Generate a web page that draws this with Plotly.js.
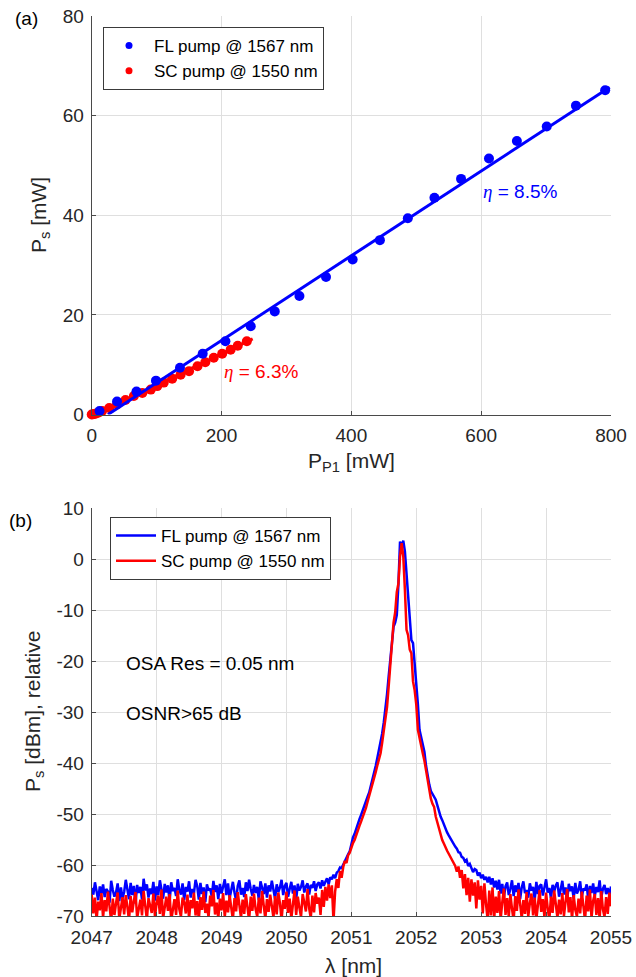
<!DOCTYPE html>
<html>
<head>
<meta charset="utf-8">
<script src="https://cdn.plot.ly/plotly-3.0.1.min.js"></script>
<style>
html,body{margin:0;padding:0;background:#fff;}
#chart{width:636px;height:977px;}
</style>
</head>
<body>
<div id="chart"></div>
<script>
// ---------- Panel (a): signal power vs pump power ----------
const flPumpPower = [12, 39, 69, 99, 136, 171, 206, 245, 282, 320, 361, 402, 444, 487, 528, 569, 612, 655, 701, 746, 791];
const flSignal    = [0.7, 2.6, 4.6, 6.8, 9.4, 12.2, 14.7, 17.7, 20.7, 23.8, 27.6, 31.1, 35.0, 39.4, 43.5, 47.3, 51.4, 54.9, 57.8, 62.0, 65.1];
const scPumpPower = [0, 2, 4, 7, 11, 16, 27, 39, 52, 65, 78, 91, 101, 111, 124, 137, 150, 163, 175, 188, 201, 214, 225, 239];
const scSignal    = [0, 0.05, 0.1, 0.2, 0.4, 0.7, 1.3, 2.0, 2.9, 3.7, 4.3, 5.0, 5.7, 6.4, 7.2, 8.0, 8.7, 9.7, 10.5, 11.4, 12.2, 13.0, 13.8, 14.7];
const flFitX = [25, 798];
const flFitY = [0, 65.7];
const scFitX = [6, 248];
const scFitY = [0, 15.2];
const xTicksA = [0, 200, 400, 600, 800];
const yTicksA = [0, 20, 40, 60, 80];

// ---------- Panel (b): optical spectra ----------
const lambdaStart = 2047.0;   // nm, OSA sweep start
const lambdaStep  = 0.025;    // nm, OSA sample spacing
const flSpectrum = [
-64.5,-65.8,-63.4,-65.1,-66.9,-64.2,-65.6,-63.8,-66.3,-64.7,-65.2,-67.4,-63.1,-64.9,-66.2,-65.4,-63.6,-67.1,-64.4,-66.5,
-65.3,-62.9,-64.8,-66.7,-63.5,-65.9,-64.1,-67.6,-63.9,-65.5,-64.3,-66.8,-62.7,-65.0,-63.8,-66.4,-64.6,-65.7,-63.3,-67.0,
-64.2,-65.9,-63.0,-64.8,-66.6,-63.7,-65.4,-64.0,-67.2,-63.4,-65.1,-64.5,-66.1,-62.8,-64.9,-65.8,-63.6,-66.9,-64.3,-65.2,
-63.2,-66.4,-64.7,-65.5,-62.9,-64.1,-66.8,-63.5,-65.7,-64.4,-67.3,-63.8,-65.0,-64.6,-66.2,-63.1,-65.3,-64.0,-66.7,-63.7,
-65.6,-64.2,-62.8,-65.9,-63.6,-66.5,-64.8,-63.3,-65.4,-67.0,-64.1,-63.0,-65.8,-64.5,-66.3,-63.4,-65.1,-62.9,-64.7,-66.0,
-63.9,-65.5,-64.3,-66.9,-63.2,-64.8,-65.7,-63.6,-66.4,-64.0,-65.2,-63.1,-64.6,-66.6,-63.8,-65.3,-64.4,-62.9,-65.9,-64.1,
-63.5,-66.2,-64.7,-63.3,-65.6,-64.0,-66.8,-63.7,-65.0,-64.3,-63.0,-65.4,-64.2,-63.6,-65.8,-63.9,-64.5,-63.2,-65.1,-63.8,
-63.4,-64.6,-63.0,-64.1,-63.3,-62.6,-63.8,-62.4,-62.8,-61.9,
-62.6,-61.5,-61.2,-60.5,-60.6,-59.8,-59.0,-58.6,-57.9,-57.3,
-56.0,-54.6,-53.9,-52.8,-52.0,-51.0,-50.2,-49.2,-48.4,-47.5,
-46.6,-45.8,-44.6,-43.3,-42.0,-40.6,-39.0,-37.5,-36.0,-34.2,
-32.0,-29.5,-26.5,-23.0,-19.8,-16.0,-13.3,-12.5,-11.0,-5.0,
3.4,2.2,3.6,1.5,-3.0,-6.7,-12.0,-15.9,-16.5,-20.0,
-25.0,-28.5,-33.5,-35.0,-36.5,-37.8,-40.5,-42.5,-44.2,-45.5,
-46.0,-46.6,-47.2,-48.3,-49.6,-50.5,-51.2,-52.0,-53.0,-53.6,
-54.2,-54.8,-55.1,-55.9,-56.4,-56.8,-57.5,-57.6,-58.4,-58.6,
-59.3,-59.0,-60.2,-59.8,-60.7,-61.4,-60.8,-61.0,-62.1,-61.5,
-62.6,-61.9,-62.9,-62.3,-63.4,-62.3,-63.8,-62.6,-64.4,-63.1,
-64.8,-62.9,-65.6,-63.7,-66.3,-64.2,-63.4,-65.9,-64.6,-63.0,-66.1,-64.0,-65.3,-63.5,-66.7,-64.4,-63.2,-65.5,-64.9,-66.4,
-63.6,-65.0,-64.3,-66.8,-63.3,-65.7,-64.1,-63.8,-66.0,-64.7,-62.8,-65.4,-64.5,-66.5,-63.9,-65.2,-64.0,-63.4,-66.2,-64.8,
-63.1,-65.8,-64.4,-67.0,-63.7,-65.1,-64.2,-66.6,-63.5,-65.6,-64.9,-63.2,-66.3,-64.6,-65.0,-63.8,-66.9,-64.1,-65.5,-63.6,
-66.1,-64.3,-65.3,-63.0,-66.4,-64.7,-63.9,-65.7,-64.5,-66.0,-64.2
];
const scSpectrum = [
-65.8,-69.5,-66.4,-70.8,-67.2,-68.9,-65.5,-70.3,-66.9,-69.1,-65.2,-68.4,-71.0,-66.6,-69.8,-67.5,-65.4,-70.6,-67.9,-66.3,
-69.7,-65.9,-68.2,-70.9,-66.1,-69.3,-67.0,-65.3,-70.4,-68.6,-66.8,-69.9,-65.1,-68.0,-70.7,-66.5,-67.7,-69.4,-65.6,-70.2,
-67.4,-66.0,-69.6,-64.8,-70.5,-67.8,-66.2,-69.0,-65.7,-70.9,-68.3,-66.7,-69.8,-65.0,-68.7,-70.1,-66.4,-67.3,-69.5,-65.8,
-70.6,-66.9,-68.5,-65.4,-69.9,-67.1,-70.8,-66.3,-68.8,-65.2,-69.4,-67.6,-70.3,-66.0,-68.1,-64.9,-69.7,-67.4,-70.5,-66.6,
-68.9,-65.5,-70.2,-67.0,-69.3,-65.9,-68.4,-70.7,-66.5,-69.1,-65.3,-67.8,-70.4,-66.8,-69.6,-65.7,-68.3,-70.9,-66.2,-69.0,
-65.6,-68.7,-70.1,-66.4,-69.5,-65.1,-67.9,-70.6,-66.7,-69.2,-65.8,-68.0,-70.3,-66.1,-69.7,-65.4,-67.5,-70.8,-66.9,-68.6,
-65.2,-69.4,-66.6,-70.5,-67.3,-65.0,-69.8,-66.2,-68.4,-70.2,-65.7,-67.8,-69.1,-64.7,-68.5,-70.4,-66.0,-69.3,-65.5,-67.6,
-66.4,-69.8,-64.9,-68.2,-64.3,-67.0,-63.8,-66.5,-64.0,-71.0,
-65.2,-62.8,-64.5,-61.2,-62.5,-60.4,-59.2,-59.6,-58.1,-57.6,
-56.6,-55.7,-55.1,-54.0,-53.2,-52.3,-51.5,-50.6,-49.9,-48.8,
-47.6,-46.5,-45.4,-44.4,-43.3,-41.8,-40.5,-39.3,-38.1,-36.0,
-33.5,-31.5,-29.0,-25.0,-21.0,-17.5,-12.5,-10.5,-6.5,-4.8,
0.5,3.1,0.5,-6.0,-13.9,-15.0,-17.8,-18.5,-24.0,-25.7,
-28.5,-33.5,-35.2,-36.8,-38.1,-39.5,-41.5,-43.5,-45.9,-47.0,
-48.0,-48.6,-50.5,-51.8,-53.0,-54.0,-55.1,-55.8,-56.6,-57.2,
-57.8,-58.4,-59.0,-59.5,-60.2,-61.3,-60.3,-62.5,-61.0,-64.6,
-61.8,-65.9,-62.5,-67.2,-62.8,-66.0,-63.4,-68.5,-63.0,-66.8,
-64.1,-69.5,-63.6,-67.7,-70.8,-65.0,-69.9,-64.4,-70.6,-66.2,
-69.4,-65.1,-70.7,-67.3,-64.6,-69.8,-66.5,-70.2,-65.7,-68.6,-70.9,-66.1,-69.0,-64.8,-68.3,-70.5,-66.9,-69.6,-65.3,-70.1,
-67.5,-65.6,-69.9,-66.4,-70.6,-67.9,-64.9,-69.2,-66.7,-70.3,-65.4,-68.5,-70.8,-66.2,-69.4,-65.0,-68.1,-70.4,-66.8,-69.7,
-65.5,-70.0,-67.2,-64.7,-69.3,-66.3,-70.7,-65.9,-68.8,-70.1,-66.6,-69.5,-65.2,-68.0,-70.9,-66.0,-69.1,-64.8,-70.4,-67.0,
-65.7,-69.8,-66.5,-70.6,-65.1,-68.7,-70.2,-66.3,-69.6,-65.4,-68.1
];
const xTicksB = [2047, 2048, 2049, 2050, 2051, 2052, 2053, 2054, 2055];
const yTicksB = [-70, -60, -50, -40, -30, -20, -10, 0, 10];

const seriesNames = ['FL pump @ 1567 nm', 'SC pump @ 1550 nm'];
const BLUE = '#0000ff', RED = '#ff0000';

const flLambda = flSpectrum.map((_, i) => +(lambdaStart + i * lambdaStep).toFixed(3));
const scLambda = scSpectrum.map((_, i) => +(lambdaStart + i * lambdaStep).toFixed(3));

const W = 636, H = 977;
const px = v => v / W;
const py = v => 1 - v / H;

const FONT = 'Liberation Sans, Arial, Helvetica, sans-serif';
const TXT = '#262626';

const traces = [
  // panel (a)
  {x: scPumpPower, y: scSignal, type: 'scatter', mode: 'markers', marker: {color: RED, size: 10},
   xaxis: 'x', yaxis: 'y', showlegend: false, cliponaxis: false},
  {x: scFitX, y: scFitY, type: 'scatter', mode: 'lines', line: {color: RED, width: 3},
   xaxis: 'x', yaxis: 'y', showlegend: false},
  {x: flPumpPower, y: flSignal, type: 'scatter', mode: 'markers', marker: {color: BLUE, size: 10},
   xaxis: 'x', yaxis: 'y', showlegend: false, cliponaxis: false},
  {x: flFitX, y: flFitY, type: 'scatter', mode: 'lines', line: {color: BLUE, width: 3},
   xaxis: 'x', yaxis: 'y', showlegend: false},
  // legend entries for panel (a)
  {x: [null], y: [null], type: 'scatter', mode: 'markers', marker: {color: BLUE, size: 7},
   name: seriesNames[0], xaxis: 'x', yaxis: 'y', legend: 'legend', legendrank: 1},
  {x: [null], y: [null], type: 'scatter', mode: 'markers', marker: {color: RED, size: 7},
   name: seriesNames[1], xaxis: 'x', yaxis: 'y', legend: 'legend', legendrank: 2},
  // panel (b)
  {x: flLambda, y: flSpectrum, type: 'scatter', mode: 'lines', line: {color: BLUE, width: 2.5},
   name: seriesNames[0], xaxis: 'x2', yaxis: 'y2', legend: 'legend2'},
  {x: scLambda, y: scSpectrum, type: 'scatter', mode: 'lines', line: {color: RED, width: 2.5},
   name: seriesNames[1], xaxis: 'x2', yaxis: 'y2', legend: 'legend2'}
];

const axisCommon = {
  showline: true, linecolor: '#4a4a4a', linewidth: 1,
  showgrid: true, gridcolor: '#dfdfdf', gridwidth: 1,
  zeroline: false, ticks: 'inside', ticklen: 4, tickcolor: '#4a4a4a', tickwidth: 1,
  tickfont: {family: FONT, size: 19, color: TXT}, fixedrange: true
};

const layout = {
  width: W, height: H,
  margin: {l: 0, r: 0, t: 0, b: 0},
  paper_bgcolor: '#fff', plot_bgcolor: '#fff',
  font: {family: FONT, color: TXT},
  showlegend: true,
  xaxis: Object.assign({}, axisCommon, {domain: [px(91.7), px(611)], range: [0, 800],
    tickvals: xTicksA, ticktext: xTicksA.map(String), anchor: 'y', ticklabelstandoff: 4}),
  yaxis: Object.assign({}, axisCommon, {domain: [py(414.5), py(16)], range: [0, 80],
    tickvals: yTicksA, ticktext: yTicksA.map(String), anchor: 'x', ticklabelstandoff: 3}),
  xaxis2: Object.assign({}, axisCommon, {domain: [px(91.7), px(611)], range: [2047, 2055],
    tickvals: xTicksB, ticktext: xTicksB.map(String), anchor: 'y2', ticklabelstandoff: 4}),
  yaxis2: Object.assign({}, axisCommon, {domain: [py(916), py(508)], range: [-70, 10],
    tickvals: yTicksB, ticktext: yTicksB.map(String), anchor: 'x2', ticklabelstandoff: 3}),
  legend: {x: px(103), y: py(27), xanchor: 'left', yanchor: 'top', bgcolor: '#fff',
    bordercolor: '#3a3a3a', borderwidth: 1, font: {family: FONT, size: 17, color: '#000'},
    tracegroupgap: 0, itemwidth: 40},
  legend2: {x: px(110), y: py(517), xanchor: 'left', yanchor: 'top', bgcolor: '#fff',
    bordercolor: '#3a3a3a', borderwidth: 1, font: {family: FONT, size: 17, color: '#000'},
    tracegroupgap: 0, itemwidth: 40},
  annotations: [
    {text: '(a)', xref: 'paper', yref: 'paper', x: px(26), y: py(18), showarrow: false,
     xanchor: 'center', yanchor: 'middle', font: {family: FONT, size: 19, color: '#000'}},
    {text: '(b)', xref: 'paper', yref: 'paper', x: px(20), y: py(520), showarrow: false,
     xanchor: 'center', yanchor: 'middle', font: {family: FONT, size: 19, color: '#000'}},
    {text: 'P<sub>s</sub> [mW]', xref: 'paper', yref: 'paper', x: px(40), y: py(215), showarrow: false,
     textangle: -90, xanchor: 'center', yanchor: 'middle', font: {family: FONT, size: 21, color: TXT}},
    {text: 'P<sub>P1</sub> [mW]', xref: 'paper', yref: 'paper', x: px(351), y: py(447), showarrow: false,
     xanchor: 'center', yanchor: 'top', font: {family: FONT, size: 21, color: TXT}},
    {text: 'P<sub>s</sub> [dBm], relative', xref: 'paper', yref: 'paper', x: px(34), y: py(712), showarrow: false,
     textangle: -90, xanchor: 'center', yanchor: 'middle', font: {family: FONT, size: 21, color: TXT}},
    {text: 'λ [nm]', xref: 'paper', yref: 'paper', x: px(353), y: py(952), showarrow: false,
     xanchor: 'center', yanchor: 'top', font: {family: FONT, size: 21, color: TXT}},
    {text: '<span style="font-family:Liberation Serif"><i>η</i></span> = 8.5%', xref: 'x', yref: 'y', x: 600, y: 44.7,
     showarrow: false, xanchor: 'left', yanchor: 'middle', font: {family: FONT, size: 19, color: BLUE}},
    {text: '<span style="font-family:Liberation Serif"><i>η</i></span> = 6.3%', xref: 'x', yref: 'y', x: 200, y: 8.6,
     showarrow: false, xanchor: 'left', yanchor: 'middle', font: {family: FONT, size: 19, color: RED}},
    {text: 'OSA Res = 0.05 nm', xref: 'x2', yref: 'y2', x: 2047.5, y: -20.4,
     showarrow: false, xanchor: 'left', yanchor: 'middle', font: {family: FONT, size: 19, color: '#000'}},
    {text: 'OSNR>65 dB', xref: 'x2', yref: 'y2', x: 2047.5, y: -30.2,
     showarrow: false, xanchor: 'left', yanchor: 'middle', font: {family: FONT, size: 19, color: '#000'}}
  ]
};

Plotly.newPlot('chart', traces, layout, {displayModeBar: false, staticPlot: true});
</script>
</body>
</html>
